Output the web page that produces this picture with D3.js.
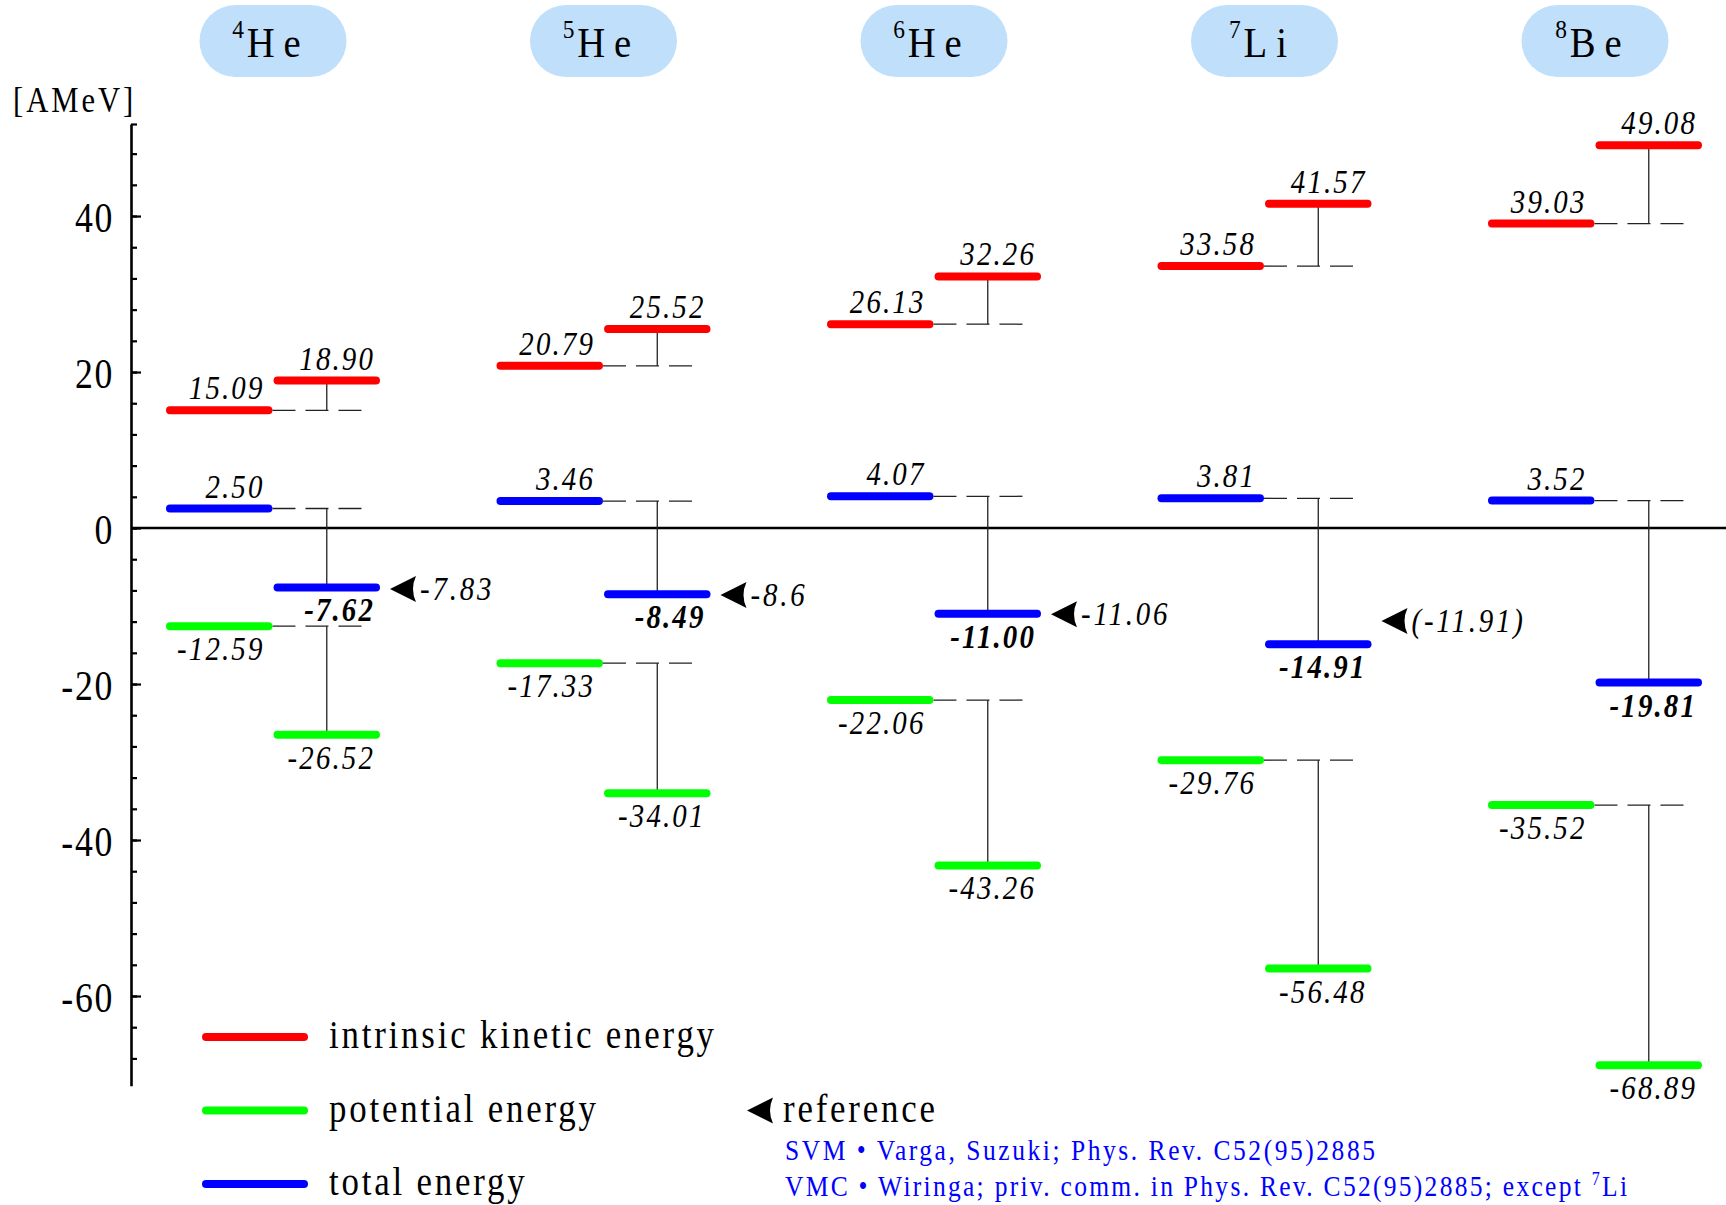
<!DOCTYPE html>
<html>
<head>
<meta charset="utf-8">
<script src="https://cdn.jsdelivr.net/npm/d3@7"></script>
<style>
  body { margin: 0; background: #fff; }
</style>
</head>
<body>
<div id="chart"></div>
<script>
// nuclei shown as columns
const nuclei = ["4He", "5He", "6He", "7Li", "8Be"];
const massNumbers = ["4", "5", "6", "7", "8"];
const symbols = ["He", "He", "He", "Li", "Be"];

// energies per nucleon [AMeV], left and right level of each column
const kineticLeft = [15.09, 20.79, 26.13, 33.58, 39.03];
const kineticRight = [18.90, 25.52, 32.26, 41.57, 49.08];
const totalLeft = [2.50, 3.46, 4.07, 3.81, 3.52];
const totalRight = [-7.62, -8.49, -11.00, -14.91, -19.81];
const potentialLeft = [-12.59, -17.33, -22.06, -29.76, -35.52];
const potentialRight = [-26.52, -34.01, -43.26, -56.48, -68.89];

// reference values (arrows)
const referenceValues = [-7.83, -8.6, -11.06, -11.91, null];
const referenceLabels = ["-7.83", "-8.6", "-11.06", "(-11.91)", ""];

// axis
const yDomain = [-71.5, 51.8];
const majorTicks = [-60, -40, -20, 0, 20, 40];
const minorTicks = d3.range(-68, 49, 4).concat([51.8]);

// legend
const legendLabels = ["intrinsic kinetic energy", "potential energy", "total energy"];
const legendColors = ["#ff0000", "#00ff00", "#0000ff"];
const referenceNotes = ["SVM \u2022 Varga, Suzuki; Phys. Rev. C52(95)2885",
                        "VMC \u2022 Wiringa; priv. comm. in Phys. Rev. C52(95)2885; except "];

const width = 1726, height = 1205;
const SX = 0.85; // narrow look of the original typeface
const FONT = "'Liberation Serif', 'Times New Roman', serif";

const svg = d3.select("#chart")
  .append("svg")
  .attr("width", width)
  .attr("height", height)
  .style("font-family", FONT);

// helper: horizontally condensed text
function addText(parent, x, y, str, opt) {
  return parent.append("text")
    .attr("transform", `translate(${x},${y}) scale(${SX},1)`)
    .attr("text-anchor", opt.anchor || "start")
    .style("font-size", opt.size + "px")
    .style("font-style", opt.italic ? "italic" : "normal")
    .style("font-weight", opt.bold ? "bold" : "normal")
    .style("letter-spacing", (opt.spacing || 0) + "px")
    .attr("fill", opt.color || "#000")
    .text(str);
}

// scales
const y = d3.scaleLinear().domain(yDomain).range([1085.7, 124]);
const xBand = d3.scaleBand().domain(nuclei).range([166, 1702]).paddingInner(0.3525).paddingOuter(0);
const xSide = d3.scaleBand().domain(["left", "right"]).range([0, xBand.bandwidth()]).paddingInner(0.01);
const axisX = 131;

// headers
const header = svg.append("g");
nuclei.forEach(function (n, i) {
  const cx = xBand(n) + xBand.bandwidth() / 2;
  header.append("rect")
    .attr("x", cx - 73.5).attr("y", 5)
    .attr("width", 147).attr("height", 72)
    .attr("rx", 36).attr("ry", 36)
    .attr("fill", "#bfdffb");
  const t = header.append("text")
    .attr("transform", `translate(${cx - 2},57) scale(0.9,1)`)
    .attr("text-anchor", "middle");
  t.append("tspan").attr("dy", -19).style("font-size", "26px").text(massNumbers[i]);
  t.append("tspan").attr("dy", 19).attr("dx", 3).style("font-size", "43px").style("letter-spacing", "10px").text(symbols[i]);
});

// unit label
addText(svg, 13, 112, "[AMeV]", {size: 36, spacing: 3.5});

// y axis: minor ticks
svg.append("g")
  .attr("transform", `translate(${axisX},0)`)
  .call(d3.axisLeft(y).tickValues(minorTicks).tickSizeInner(-6).tickSizeOuter(0).tickFormat(""))
  .call(g => g.selectAll("line").attr("stroke", "#000").attr("stroke-width", 2.2))
  .call(g => g.select(".domain").attr("stroke", "#000").attr("stroke-width", 2.6));

// y axis: major ticks with labels
svg.append("g")
  .attr("transform", `translate(${axisX},0)`)
  .call(d3.axisLeft(y).tickValues(majorTicks).tickSizeInner(-10).tickSizeOuter(0).tickPadding(17)
    .tickFormat(d => String(d)))
  .call(g => g.select(".domain").remove())
  .call(g => g.selectAll("line").attr("stroke", "#000").attr("stroke-width", 2.2))
  .call(g => g.selectAll("text")
    .attr("x", -17 / SX)
    .attr("dy", "0.36em")
    .attr("transform", `scale(${SX},1)`)
    .attr("fill", "#000")
    .style("font-family", FONT)
    .style("font-size", "42px")
    .style("letter-spacing", "2px"));

// zero line
svg.append("line")
  .attr("x1", axisX).attr("x2", width)
  .attr("y1", y(0)).attr("y2", y(0))
  .attr("stroke", "#000").attr("stroke-width", 2.4);

// level pairs
const series = [
  {color: "#ff0000", left: kineticLeft, right: kineticRight, rightBelow: false, bold: false},
  {color: "#0000ff", left: totalLeft, right: totalRight, rightBelow: true, bold: true},
  {color: "#00ff00", left: potentialLeft, right: potentialRight, rightBelow: true, bold: false}
];
const levels = [];
series.forEach(function (s) {
  nuclei.forEach(function (n, i) {
    levels.push({n: n, color: s.color, v1: s.left[i], v2: s.right[i], rightBelow: s.rightBelow, bold: s.bold});
  });
});

const sideW = xSide.bandwidth();
const leftStart = d => xBand(d.n) + xSide("left");
const leftEnd = d => leftStart(d) + sideW;
const rightStart = d => xBand(d.n) + xSide("right");
const rightEnd = d => rightStart(d) + sideW;

const conn = svg.append("g");
// dashed continuation of the left level
conn.selectAll(".dash")
  .data(levels).enter().append("line")
  .attr("x1", d => leftEnd(d)).attr("x2", d => leftEnd(d) + 94)
  .attr("y1", d => y(d.v1)).attr("y2", d => y(d.v1))
  .attr("stroke", "#222").attr("stroke-width", 1.3)
  .attr("stroke-dasharray", "23,10");
// vertical shift to right level
conn.selectAll(".shift")
  .data(levels).enter().append("line")
  .attr("x1", d => rightStart(d) + sideW / 2).attr("x2", d => rightStart(d) + sideW / 2)
  .attr("y1", d => y(d.v1)).attr("y2", d => y(d.v2))
  .attr("stroke", "#222").attr("stroke-width", 1.3);

const bars = svg.append("g").attr("stroke-linecap", "round").attr("stroke-width", 8);
bars.selectAll(".left")
  .data(levels).enter().append("line")
  .attr("x1", d => leftStart(d) + 4).attr("x2", d => leftEnd(d) - 4)
  .attr("y1", d => y(d.v1)).attr("y2", d => y(d.v1))
  .attr("stroke", d => d.color);
bars.selectAll(".right")
  .data(levels).enter().append("line")
  .attr("x1", d => rightStart(d) + 4).attr("x2", d => rightEnd(d) - 4)
  .attr("y1", d => y(d.v2)).attr("y2", d => y(d.v2))
  .attr("stroke", d => d.color);

// value labels
const labels = svg.append("g");
levels.forEach(function (d) {
  const yl = d.v1 < 0 ? y(d.v1) + 34 : y(d.v1) - 11;
  addText(labels, leftEnd(d) - 8, yl, d.v1.toFixed(2), {size: 34, italic: true, anchor: "end", spacing: 2.5});
  const yr = d.rightBelow ? y(d.v2) + 34 : y(d.v2) - 11;
  addText(labels, rightEnd(d) - 5, yr, d.v2.toFixed(2), {size: 34, italic: true, bold: d.bold, anchor: "end", spacing: 2.5});
});

// reference arrows
const arrowPath = "M0,0 L26,-13 Q20,0 26,13 Z";
const refs = svg.append("g");
nuclei.forEach(function (n, i) {
  if (referenceValues[i] === null) return;
  const x0 = xBand(n) + xSide("right") + sideW + 10;
  const yr = y(referenceValues[i]);
  refs.append("path").attr("d", arrowPath).attr("transform", `translate(${x0},${yr})`).attr("fill", "#000");
  addText(refs, x0 + 30, yr + 11, referenceLabels[i], {size: 34, italic: true, spacing: 3.3});
});

// legend
const legendY = d3.scalePoint().domain(legendLabels).range([1037, 1184]);
const legend = svg.append("g");
legendLabels.forEach(function (l, i) {
  legend.append("line")
    .attr("x1", 206).attr("x2", 304)
    .attr("y1", legendY(l)).attr("y2", legendY(l))
    .attr("stroke", legendColors[i]).attr("stroke-width", 8).attr("stroke-linecap", "round");
  addText(legend, 329, legendY(l) + 11, l, {size: 41, spacing: 3.3});
});

// reference note
legend.append("path").attr("d", arrowPath).attr("transform", `translate(747,${legendY(legendLabels[1])})`).attr("fill", "#000");
addText(legend, 783, 1122, "reference", {size: 41, spacing: 3.3});
addText(legend, 785, 1160, referenceNotes[0], {size: 30, spacing: 3.0, color: "#0000ff"});
const note2 = addText(legend, 785, 1196, referenceNotes[1], {size: 30, spacing: 2.7, color: "#0000ff"});
note2.append("tspan").attr("dy", -11).style("font-size", "19px").text("7");
note2.append("tspan").attr("dy", 11).text("Li");
</script>
</body>
</html>
